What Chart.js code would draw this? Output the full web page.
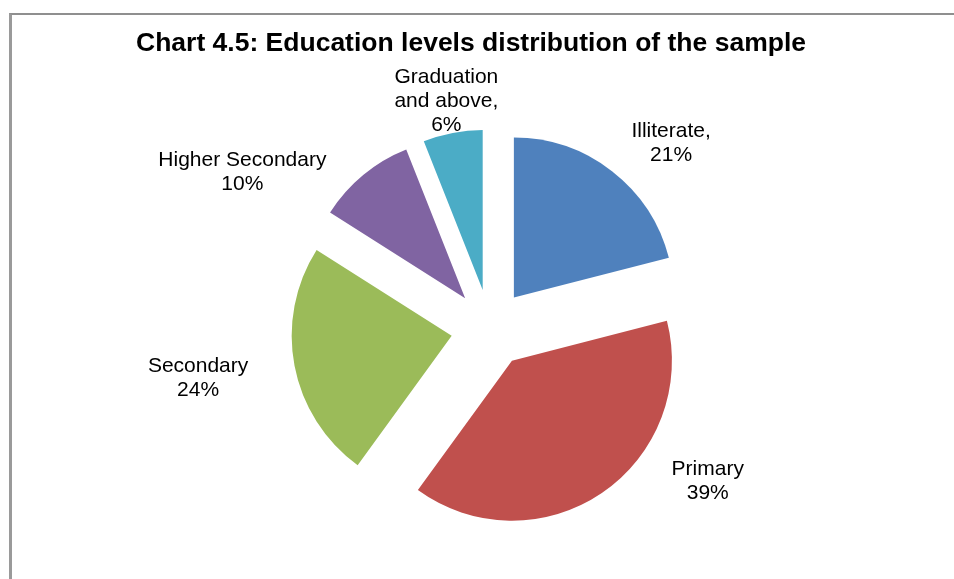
<!DOCTYPE html>
<html>
<head>
<meta charset="utf-8">
<title>Education levels distribution of the sample</title>
<script src="https://cdn.jsdelivr.net/npm/chart.js@4/dist/chart.umd.min.js"></script>
<style>
  html, body { margin: 0; padding: 0; background: #ffffff; overflow: hidden; }
  #frame {
    position: absolute; left: 9px; top: 13px; width: 2000px; height: 2000px;
    border-top: 2px solid #8f8f8f; border-left: 3px solid #9a9a9a;
  }
  #chart { position: absolute; left: 0; top: 0; }
</style>
</head>
<body>
<div id="frame"></div>
<canvas id="chart" width="954" height="579"></canvas>
<script>
// Education level of respondents, share of the sample (%)
const categories = ['Illiterate', 'Primary', 'Secondary', 'Higher Secondary', 'Graduation and above'];
const shares = [21, 39, 24, 10, 6];
// Label text as it is broken over lines beside each slice
const labelLines = [['Illiterate,'], ['Primary'], ['Secondary'], ['Higher Secondary'], ['Graduation', 'and above,']];

// Pulls every slice out from the centre along its own bisector
const explodedPie = {
  id: 'explodedPie',
  beforeDatasetDraw(chart, args, opts) {
    const ctx = chart.ctx;
    args.meta.data.forEach(arc => {
      const mid = (arc.startAngle + arc.endAngle) / 2;
      ctx.save();
      ctx.translate(Math.cos(mid) * opts.distance, Math.sin(mid) * opts.distance);
      arc.draw(ctx);
      ctx.restore();
    });
    return false;
  }
};

// Category name and percentage written outside each slice
const sliceLabels = {
  id: 'sliceLabels',
  afterDatasetsDraw(chart, args, opts) {
    const ctx = chart.ctx;
    const meta = chart.getDatasetMeta(0);
    const values = chart.data.datasets[0].data;
    const total = values.reduce((a, b) => a + b, 0);
    ctx.save();
    ctx.font = opts.font;
    ctx.fillStyle = opts.color;
    ctx.textAlign = 'center';
    ctx.textBaseline = 'middle';
    meta.data.forEach((arc, i) => {
      const p = opts.placement[i];
      const ang = (arc.startAngle + arc.endAngle) / 2 + p.turn * Math.PI / 180;
      const r = arc.outerRadius * p.reach;
      const cx = arc.x + Math.cos(ang) * r;
      const cy = arc.y + Math.sin(ang) * r;
      const lines = labelLines[i].concat([Math.round(values[i] / total * 100) + '%']);
      lines.forEach((t, k) => {
        ctx.fillText(t, cx, cy + (k - (lines.length - 1) / 2) * opts.lineHeight);
      });
    });
    ctx.restore();
  }
};

new Chart(document.getElementById('chart'), {
  type: 'pie',
  data: {
    labels: categories,
    datasets: [{
      data: shares,
      backgroundColor: ['#4F81BD', '#C0504D', '#9BBB59', '#8064A2', '#4BACC6'],
      borderWidth: 0
    }]
  },
  options: {
    responsive: false,
    animation: false,
    devicePixelRatio: 1,
    radius: 160,
    layout: { padding: { left: 136, right: 110, top: 14, bottom: 0 } },
    plugins: {
      legend: { display: false },
      tooltip: { enabled: false },
      title: {
        display: true,
        text: 'Chart 4.5: Education levels distribution of the sample',
        align: 'start',
        color: '#000000',
        font: { family: '"Liberation Sans", Arial, sans-serif', size: 26.5, weight: 'bold', lineHeight: 1.2 },
        padding: { top: 14, bottom: 18 }
      },
      explodedPie: { distance: 39 },
      sliceLabels: {
        font: '21px "Liberation Sans", Arial, sans-serif',
        color: '#000000',
        lineHeight: 24,
        placement: [
          { turn: 6.55, reach: 1.619 },
          { turn: -20.66, reach: 1.664 },
          { turn: 1.1, reach: 1.851 },
          { turn: -18.2, reach: 1.829 },
          { turn: -0.1, reach: 1.443 }
        ]
      }
    }
  },
  plugins: [explodedPie, sliceLabels]
});
</script>
</body>
</html>
